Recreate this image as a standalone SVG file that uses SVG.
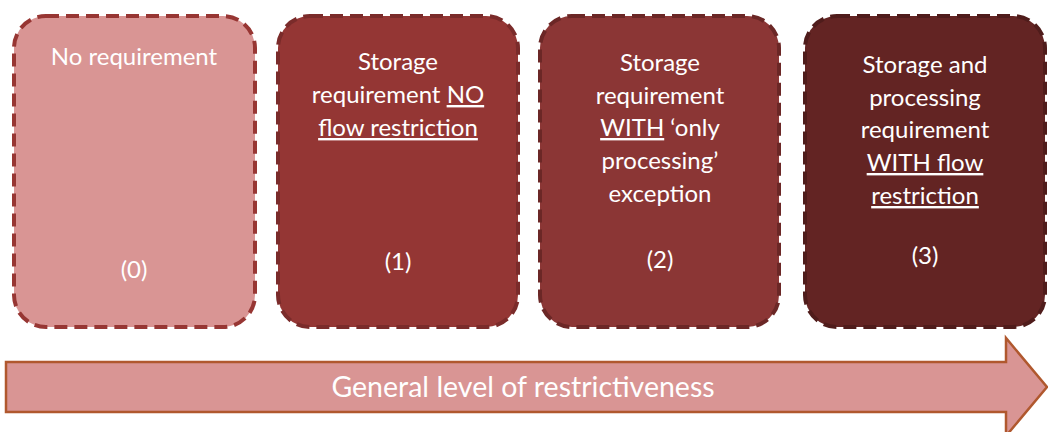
<svg xmlns="http://www.w3.org/2000/svg" width="1048" height="432" viewBox="0 0 1048 432">
<style>
.box{stroke-width:4;stroke-dasharray:13 7}
.t{font-family:Lato,"Open Sans","Liberation Sans",sans-serif;font-size:24px;fill:#ffffff;text-anchor:middle}
.u{text-decoration:underline}
</style>
<rect width="1048" height="432" fill="#ffffff"/>
<g id="connectors">
<g id="arrow">
<path d="M 6 362 L 1006 362 L 1006 338 L 1047 387 L 1006 436 L 1006 412 L 6 412 Z" fill="#D99594" stroke="#B0582E" stroke-width="2.5"/>
<text class="t" x="523" y="397" style="font-size:28.5px">General level of restrictiveness</text>
</g>
</g>
<g id="node0">
<rect class="box" x="14" y="16" width="241" height="311" rx="32" fill="#D99594" stroke="#973633"/>
<text class="t" x="134" y="65">No requirement</text>
<text class="t" x="134" y="278">(0)</text>
</g>
<g id="node1">
<rect class="box" x="278" y="16" width="240" height="311" rx="32" fill="#943634" stroke="#7A2B2A"/>
<text class="t" x="398" y="70">Storage</text>
<text class="t" x="398" y="103">requirement <tspan class="u">NO</tspan></text>
<text class="t" x="398" y="136"><tspan class="u">flow restriction</tspan></text>
<text class="t" x="398" y="270">(1)</text>
</g>
<g id="node2">
<rect class="box" x="540" y="16" width="239" height="311" rx="32" fill="#8B3635" stroke="#6B2726"/>
<text class="t" x="660" y="71">Storage</text>
<text class="t" x="660" y="104">requirement</text>
<text class="t" x="660" y="136"><tspan class="u">WITH</tspan> ‘only</text>
<text class="t" x="660" y="169">processing’</text>
<text class="t" x="660" y="202">exception</text>
<text class="t" x="660" y="268">(2)</text>
</g>
<g id="node3">
<rect class="box" x="805" y="16" width="240" height="311" rx="32" fill="#632423" stroke="#4F1C1B"/>
<text class="t" x="925" y="73">Storage and</text>
<text class="t" x="925" y="106">processing</text>
<text class="t" x="925" y="138">requirement</text>
<text class="t" x="925" y="171"><tspan class="u">WITH flow</tspan></text>
<text class="t" x="925" y="204"><tspan class="u">restriction</tspan></text>
<text class="t" x="925" y="264">(3)</text>
</g>
</svg>
